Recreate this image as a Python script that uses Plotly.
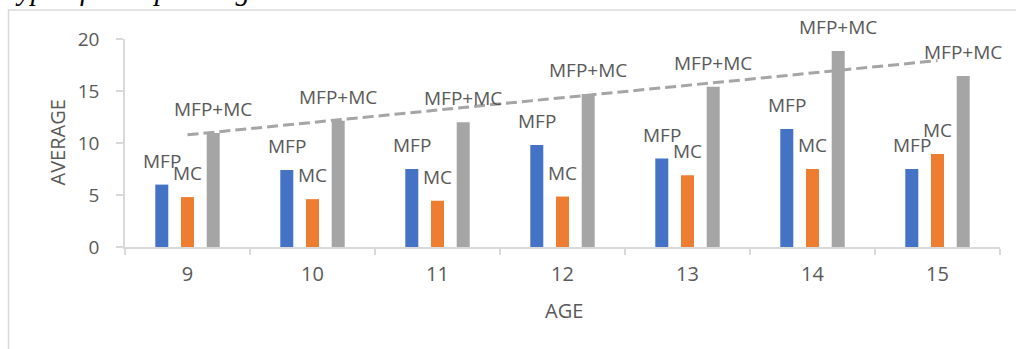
import numpy as np
import plotly.graph_objects as go

# ---- data ----
ages = ["9", "10", "11", "12", "13", "14", "15"]
mfp = [6.0, 7.4, 7.5, 9.8, 8.5, 11.35, 7.5]
mc = [4.8, 4.6, 4.45, 4.85, 6.9, 7.5, 8.95]
mfp_mc = [10.95, 12.15, 12.0, 14.7, 15.4, 18.85, 16.45]
series_names = ["MFP", "MC", "MFP+MC"]
series_values = [mfp, mc, mfp_mc]
series_colors = ["#4472C4", "#ED7D31", "#A5A5A5"]
y_ticks = [0, 5, 10, 15, 20]

# ---- layout geometry (pixels) ----
W, H = 1016, 349
L, R, T, B = 125, 16, 39, 102
pw, ph = W - L - R, H - T - B


def px_to_paper_x(px):
    return (px - L) / pw


def px_to_paper_y(py):
    return (H - B - py) / ph


TXT = "#595959"
FONT = "Open Sans"

fig = go.Figure()
for name, vals, col in zip(series_names, series_values, series_colors):
    fig.add_trace(go.Bar(x=ages, y=vals, name=name, marker=dict(color=col, line=dict(width=0))))

# linear trendline of MFP+MC
idx = np.arange(len(ages))
slope, intercept = np.polyfit(idx, mfp_mc, 1)
trend = slope * idx + intercept
fig.add_trace(go.Scatter(x=ages, y=trend, mode="lines",
                         line=dict(color="#A5A5A5", width=3, dash="11px,5px"),
                         showlegend=False, hoverinfo="skip"))

# data labels (x given as category index)
bar_step_px = 25.7
annotations = []
for si, (name, vals) in enumerate(zip(series_names, series_values)):
    for ci, v in enumerate(vals):
        annotations.append(dict(x=ci, y=v, xref="x", yref="y", text=name, showarrow=False,
                                xanchor="center", yanchor="middle",
                                xshift=(si - 1) * bar_step_px, yshift=24,
                                font=dict(family=FONT, size=19, color=TXT)))

# axis titles
annotations.append(dict(x=px_to_paper_x(563.5), y=px_to_paper_y(310.5), xref="paper", yref="paper",
                        text="AGE", showarrow=False, xanchor="center", yanchor="middle",
                        font=dict(family=FONT, size=20, color=TXT)))
annotations.append(dict(x=px_to_paper_x(56.5), y=px_to_paper_y(143), xref="paper", yref="paper",
                        text="AVERAGE", showarrow=False, xanchor="center", yanchor="middle",
                        textangle=-90, font=dict(family=FONT, size=20, color=TXT)))
# cut-off caption above chart
annotations.append(dict(x=px_to_paper_x(2), y=px_to_paper_y(8), xref="paper", yref="paper",
                        text="<i>Type of Metaphor/Age</i>", showarrow=False,
                        xanchor="left", yanchor="bottom",
                        font=dict(family="Liberation Serif", size=29, color="#000000")))

shapes = [dict(type="rect", xref="paper", yref="paper",
               x0=px_to_paper_x(8.5), x1=px_to_paper_x(1100),
               y0=px_to_paper_y(500), y1=px_to_paper_y(10),
               line=dict(color="#D9D9D9", width=1.5), fillcolor="rgba(0,0,0,0)", layer="below")]

fig.update_layout(
    width=W, height=H, autosize=False,
    margin=dict(l=L, r=R, t=T, b=B, pad=0),
    paper_bgcolor="white", plot_bgcolor="white",
    barmode="group", bargap=0.383, bargroupgap=0.494,
    showlegend=False,
    annotations=annotations, shapes=shapes,
    font=dict(family=FONT, color=TXT),
)
fig.update_xaxes(type="category", range=[-0.5, len(ages) - 0.5], autorange=False,
                 showgrid=False, showline=True, linecolor="#D9D9D9", linewidth=1.5,
                 ticks="outside", tickson="boundaries", ticklen=6, tickcolor="#D9D9D9", tickwidth=1.5,
                 tickfont=dict(family=FONT, size=20, color=TXT), ticklabelstandoff=8)
fig.update_yaxes(range=[0, 20], tickvals=y_ticks, showgrid=False, zeroline=False,
                 showline=True, linecolor="#D9D9D9", linewidth=1.5,
                 ticks="outside", ticklen=7, tickcolor="#D9D9D9", tickwidth=1.5,
                 tickfont=dict(family=FONT, size=19, color=TXT), ticklabelstandoff=13)

fig.write_html("out.html", config={"displayModeBar": False},
               post_script="document.body.style.margin='0';document.body.style.overflow='hidden';")
